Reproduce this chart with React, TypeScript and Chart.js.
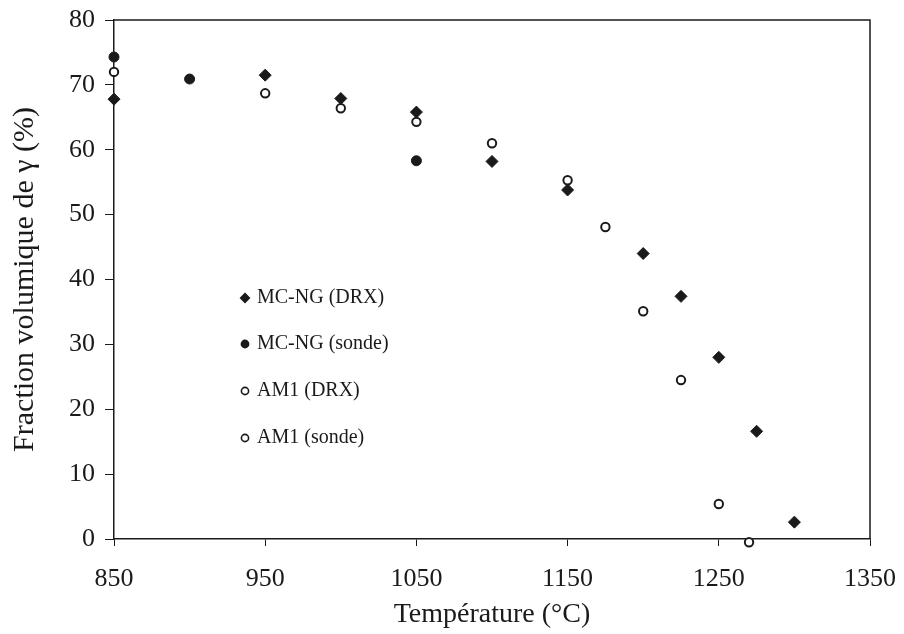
import React, { useEffect, useRef } from 'react';
import { Chart, registerables } from 'chart.js';

Chart.register(...registerables);

// ---- data ----
const xTickValues = [850, 950, 1050, 1150, 1250, 1350];
const yTickValues = [0, 10, 20, 30, 40, 50, 60, 70, 80];

const mcngDrxT = [850, 950, 1000, 1050, 1100, 1150, 1200, 1225, 1250, 1275, 1300];
const mcngDrxV = [67.8, 71.5, 67.9, 65.8, 58.2, 53.8, 44.0, 37.4, 28.0, 16.6, 2.6];

const mcngSondeT = [850, 900, 1050];
const mcngSondeV = [74.3, 70.9, 58.3];

const am1DrxT = [950, 1000, 1050, 1100, 1150, 1175, 1200, 1225, 1250, 1270];
const am1DrxV = [68.7, 66.4, 64.3, 61.0, 55.3, 48.1, 35.1, 24.5, 5.4, -0.5];

const am1SondeT = [850];
const am1SondeV = [72.0];

const seriesNames = ['MC-NG (DRX)', 'MC-NG (sonde)', 'AM1 (DRX)', 'AM1 (sonde)'];

const FONT = "'Liberation Serif', 'Times New Roman', serif";
const INK = '#1a1a1a';

const toPts = (t: number[], v: number[]) => t.map((x, i) => ({ x, y: v[i] }));

const framePlugin = {
  id: 'frame',
  beforeDatasetsDraw(chart: any) {
    const { ctx, chartArea: a } = chart;
    ctx.save();
    ctx.strokeStyle = INK;
    ctx.lineWidth = 1.5;
    ctx.beginPath();
    ctx.moveTo(a.left, a.top);
    ctx.lineTo(a.right, a.top);
    ctx.lineTo(a.right, a.bottom);
    ctx.stroke();
    ctx.restore();
  },
};

const legendPlugin = {
  id: 'innerLegend',
  afterDraw(chart: any) {
    const { ctx, chartArea: a } = chart;
    const x0 = a.left + 131;
    const rows = [298, 344, 391, 438];
    ctx.save();
    chart.data.datasets.forEach((ds: any, i: number) => {
      const y = rows[i];
      ctx.beginPath();
      const r = 3.6;
      if (ds.pointStyle === 'rectRot') {
        ctx.moveTo(x0, y - r * 1.2);
        ctx.lineTo(x0 + r * 1.2, y);
        ctx.lineTo(x0, y + r * 1.2);
        ctx.lineTo(x0 - r * 1.2, y);
        ctx.closePath();
      } else {
        ctx.arc(x0, y, r, 0, Math.PI * 2);
      }
      ctx.fillStyle = ds.pointBackgroundColor;
      ctx.strokeStyle = INK;
      ctx.lineWidth = 1.6;
      ctx.fill();
      ctx.stroke();
      ctx.fillStyle = INK;
      ctx.font = `20px ${FONT}`;
      ctx.textAlign = 'left';
      ctx.textBaseline = 'middle';
      ctx.fillText(ds.label, x0 + 12, y);
    });
    ctx.restore();
  },
};

export default function App() {
  const ref = useRef<HTMLCanvasElement | null>(null);

  useEffect(() => {
    document.body.style.margin = '0';
    if (!ref.current) return;
    const chart = new Chart(ref.current, {
      type: 'scatter',
      data: {
        datasets: [
          {
            label: seriesNames[0],
            data: toPts(mcngDrxT, mcngDrxV),
            pointStyle: 'rectRot',
            pointRadius: 6,
            pointBackgroundColor: INK,
            pointBorderColor: INK,
            pointBorderWidth: 1,
            clip: false,
          },
          {
            label: seriesNames[1],
            data: toPts(mcngSondeT, mcngSondeV),
            pointStyle: 'circle',
            pointRadius: 5,
            pointBackgroundColor: INK,
            pointBorderColor: INK,
            pointBorderWidth: 1,
            clip: false,
          },
          {
            label: seriesNames[2],
            data: toPts(am1DrxT, am1DrxV),
            pointStyle: 'circle',
            pointRadius: 4.2,
            pointBackgroundColor: '#ffffff',
            pointBorderColor: INK,
            pointBorderWidth: 2,
            clip: false,
          },
          {
            label: seriesNames[3],
            data: toPts(am1SondeT, am1SondeV),
            pointStyle: 'circle',
            pointRadius: 4.2,
            pointBackgroundColor: '#ffffff',
            pointBorderColor: INK,
            pointBorderWidth: 2,
            clip: false,
          },
        ] as any,
      },
      options: {
        animation: false,
        responsive: false,
        maintainAspectRatio: false,
        events: [],
        layout: { padding: { left: 0, right: 34, top: 20, bottom: 0 } },
        plugins: {
          legend: { display: false },
          tooltip: { enabled: false },
        },
        scales: {
          x: {
            type: 'linear',
            min: 850,
            max: 1350,
            afterBuildTicks: (s: any) => {
              s.ticks = xTickValues.map((v) => ({ value: v }));
            },
            afterFit: (s: any) => {
              s.height = 95;
              s.paddingLeft = 0;
              s.paddingRight = 0;
            },
            ticks: {
              font: { family: FONT, size: 26 },
              color: INK,
              padding: 18,
              maxRotation: 0,
              autoSkip: false,
              callback: (v: any) => String(v),
            },
            grid: {
              display: true,
              drawOnChartArea: false,
              drawTicks: true,
              tickLength: 7,
              color: INK,
              lineWidth: 1,
            },
            border: { display: true, color: INK, width: 1.5 },
            title: {
              display: true,
              text: 'Température (°C)',
              font: { family: FONT, size: 28 },
              color: INK,
              padding: { top: 0, bottom: 3 },
            },
          },
          y: {
            type: 'linear',
            min: 0,
            max: 80,
            afterBuildTicks: (s: any) => {
              s.ticks = yTickValues.map((v) => ({ value: v }));
            },
            afterFit: (s: any) => {
              s.width = 114;
              s.paddingTop = 0;
              s.paddingBottom = 0;
            },
            ticks: {
              font: { family: FONT, size: 26 },
              color: INK,
              padding: 10,
              autoSkip: false,
              callback: (v: any) => String(v),
            },
            grid: {
              display: true,
              drawOnChartArea: false,
              drawTicks: true,
              tickLength: 9,
              color: INK,
              lineWidth: 1,
            },
            border: { display: true, color: INK, width: 1.5 },
            title: {
              display: true,
              text: 'Fraction volumique de γ (%)',
              font: { family: FONT, size: 30 },
              color: INK,
              padding: { top: 7, bottom: 0 },
            },
          },
        },
      },
      plugins: [framePlugin, legendPlugin],
    });
    return () => chart.destroy();
  }, []);

  return (
    <div style={{ width: 904, height: 634 }}>
      <canvas ref={ref} width={904} height={634} style={{ display: 'block', width: 904, height: 634 }} />
    </div>
  );
}
